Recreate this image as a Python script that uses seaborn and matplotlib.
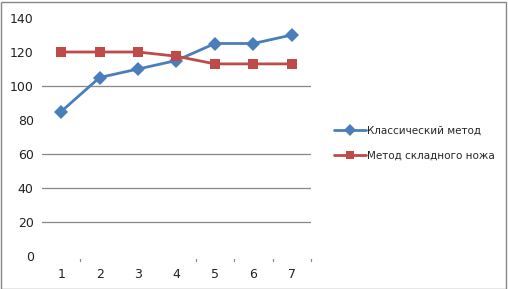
import matplotlib
matplotlib.use("Agg")
import matplotlib.pyplot as plt
import seaborn as sns
import pandas as pd
from matplotlib.patches import Rectangle

categories = [1, 2, 3, 4, 5, 6, 7]
classic = [85, 105, 110, 115, 125, 125, 130]
jackknife = [120, 120, 120, 117.5, 113, 113, 113]
series_names = ["Классический метод", "Метод складного ножа"]
y_ticks = [0, 20, 40, 60, 80, 100, 120, 140]
visible_grid = [20, 40, 60, 100]

df = pd.DataFrame({
    "x": categories * 2,
    "y": classic + jackknife,
    "s": [series_names[0]] * 7 + [series_names[1]] * 7,
})

sns.set_style("white")
plt.rcParams["font.family"] = ["DejaVu Sans"]

fig = plt.figure(figsize=(5.08, 2.89), dpi=100)
ax = fig.add_axes([42/508, 1-256/289, (311-42)/508, (256-18)/289])

for g in visible_grid:
    ax.axhline(g, color="#868686", lw=0.9, zorder=0)

sns.lineplot(data=df, x="x", y="y", hue="s", style="s",
             markers={series_names[0]: "D", series_names[1]: "s"},
             dashes=False, palette=["#4A7EBB", "#BE4B48"],
             markersize=7, linewidth=2, markeredgewidth=0, ax=ax, legend=True)

ax.set_xlim(0.5, 7.5)
ax.set_ylim(0, 140)
ax.set_yticks(y_ticks)
ax.set_yticklabels([str(v) for v in y_ticks], fontsize=9, color="#222222")
ax.set_xticks(categories)
ax.set_xticklabels([str(c) for c in categories], fontsize=9, color="#222222")
ax.tick_params(axis="x", length=0, pad=9)
ax.tick_params(axis="y", length=0, pad=6)
for b in [1.5, 4.5, 5.5, 6.5, 7.5]:
    ax.plot([b, b], [-1.5, -3], color="#868686", lw=0.9, clip_on=False)
ax.set_xlabel("")
ax.set_ylabel("")
for sp in ax.spines.values():
    sp.set_visible(False)

handles, labels = ax.get_legend_handles_labels()
ax.get_legend().remove()
for h in handles:
    h.set_markersize(6)
fig.legend(handles, labels, loc="center left", bbox_to_anchor=(325/508, 1-143/289),
           frameon=False, fontsize=7.5, handlelength=3.0, handletextpad=0.15,
           labelspacing=1.5)

fig.patches.append(Rectangle((0.5/508, 0.5/289), 505/508, 287/289, transform=fig.transFigure,
                             fill=False, edgecolor="#868686", lw=1))

fig.savefig("out.png", dpi=100)
